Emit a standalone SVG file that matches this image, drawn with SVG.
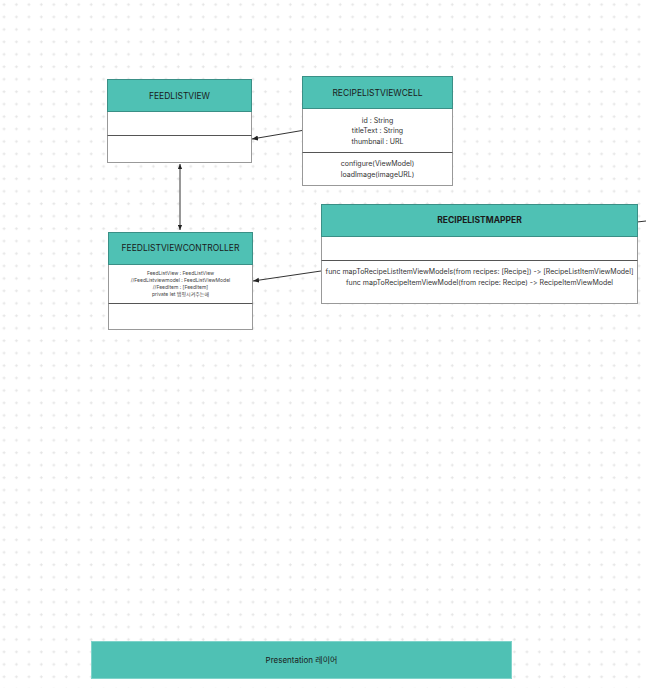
<svg xmlns="http://www.w3.org/2000/svg" width="646" height="688" viewBox="0 0 646 688">
<defs>
<pattern id="grid" x="-2" y="0" width="12.45" height="12.45" patternUnits="userSpaceOnUse">
<path d="M4.5 4.5h3M6 3v3" stroke="#e4e4e4" stroke-width="1"/>
</pattern>
<marker id="arr" viewBox="0 0 6 6" refX="6" refY="3" markerWidth="6" markerHeight="6" orient="auto" markerUnits="userSpaceOnUse">
<path d="M0 0.5L6 3L0 5.5z" fill="#222"/>
</marker>
<marker id="arrs" viewBox="0 0 6 6" refX="6" refY="3" markerWidth="5" markerHeight="5" orient="auto-start-reverse" markerUnits="userSpaceOnUse">
<path d="M0 0.5L6 3L0 5.5z" fill="#222"/>
</marker>
</defs>
<style>
.hdr{fill:#4fc1b4;stroke:#3a8f86;stroke-width:1}
.body{fill:#fff;stroke:#999;stroke-width:1}
.div{stroke:#555;stroke-width:1}
.t{font-family:"Inter","Liberation Sans","Noto Sans CJK KR",sans-serif;fill:#1a1a1a;text-anchor:middle;font-feature-settings:"calt" 0,"liga" 0;font-variant-ligatures:none}
.title{font-size:8.5px}
.attr{font-size:7px;fill:#333}
.tiny{font-size:5px;fill:#444}
.conn{stroke:#333;stroke-width:1;fill:none}
</style>
<rect width="646" height="688" fill="#fff"/>
<rect width="646" height="688" fill="url(#grid)"/>

<g id="connectors">
<line class="conn" x1="302" y1="130.5" x2="252" y2="139" marker-end="url(#arr)"/>
<line class="conn" x1="180" y1="164" x2="180" y2="230" stroke="#555" stroke-width="1.2" marker-start="url(#arrs)" marker-end="url(#arrs)"/>
<line class="conn" x1="321" y1="271" x2="253" y2="281" marker-end="url(#arr)"/>
<line class="conn" x1="637" y1="222" x2="646" y2="221"/>
</g>

<g id="feedlistview">
<rect class="body" x="107.5" y="79.5" width="144" height="83"/>
<rect class="hdr" x="107.5" y="79.5" width="144" height="32"/>
<line class="div" x1="107.5" y1="135.5" x2="251.5" y2="135.5"/>
<text class="t title" x="179.5" y="98.5">FEEDLISTVIEW</text>
</g>

<g id="recipelistviewcell">
<rect class="body" x="302.5" y="76.5" width="150" height="109"/>
<rect class="hdr" x="302.5" y="76.5" width="150" height="32"/>
<line class="div" x1="302.5" y1="152.5" x2="452.5" y2="152.5"/>
<text class="t title" x="377.5" y="95.5">RECIPELISTVIEWCELL</text>
<text class="t attr" x="377.5" y="123">id : String</text>
<text class="t attr" x="377.5" y="133">titleText : String</text>
<text class="t attr" x="377.5" y="143.5">thumbnail : URL</text>
<text class="t attr" x="377.5" y="165.5">configure(ViewModel)</text>
<text class="t attr" x="377.5" y="176.5">loadImage(imageURL)</text>
</g>

<g id="feedlistviewcontroller">
<rect class="body" x="108.5" y="232.5" width="144" height="97"/>
<rect class="hdr" x="108.5" y="232.5" width="144" height="32"/>
<line class="div" x1="108.5" y1="303.5" x2="252.5" y2="303.5"/>
<text class="t title" x="180.5" y="251">FEEDLISTVIEWCONTROLLER</text>
<text class="t tiny" x="180.5" y="274.5">FeedListView : FeedListView</text>
<text class="t tiny" x="180.5" y="281.5">//FeedListviewmodel : FeedListViewModel</text>
<text class="t tiny" x="180.5" y="288.5">//FeedItem : [FeedItem]</text>
<text class="t tiny" x="180.5" y="295.5">private let 탭핑시켜주는애</text>
</g>

<g id="recipelistmapper">
<rect class="body" x="321.5" y="204.5" width="316" height="99"/>
<rect class="hdr" x="321.5" y="204.5" width="316" height="32"/>
<line class="div" x1="321.5" y1="260.5" x2="637.5" y2="260.5"/>
<text class="t title" x="479.5" y="223" font-weight="bold">RECIPELISTMAPPER</text>
<text class="t attr" x="479.5" y="273.5">func mapToRecipeListItemViewModels(from recipes: [Recipe]) -&gt; [RecipeListItemViewModel]</text>
<text class="t attr" x="479.5" y="284.5">func mapToRecipeItemViewModel(from recipe: Recipe) -&gt; RecipeItemViewModel</text>
</g>

<g id="presentation">
<rect x="91.5" y="641.5" width="420" height="37" fill="#4fc1b4" stroke="#7fd3ca" stroke-width="1"/>
<text class="t" x="301.5" y="663" font-size="8px">Presentation 레이어</text>
</g>
</svg>
